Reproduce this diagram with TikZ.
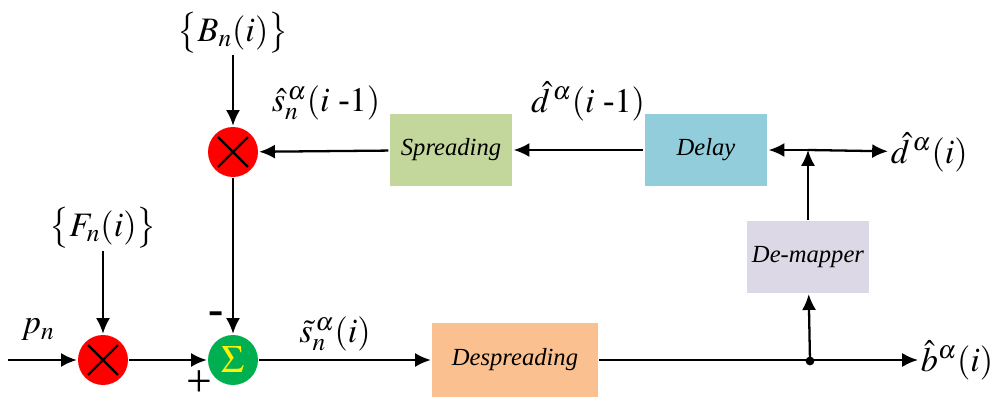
\documentclass[tikz,border=0pt]{standalone}
\usepackage{amsmath}
\usepackage{mathptmx}
\usepackage{fontspec}
\setmainfont{Liberation Serif}
\usepackage{tikz}
\usetikzlibrary{arrows.meta,arrows}
\usetikzlibrary{positioning}
\tikzset{>={Latex[length=9pt,width=8pt]}}
\definecolor{spreadcol}{HTML}{C3D69B}
\definecolor{delaycol}{HTML}{92CDDC}
\definecolor{demapcol}{HTML}{DCD8E6}
\definecolor{despcol}{HTML}{FAC090}
\definecolor{sumcol}{HTML}{00B050}
\newcommand{\biglab}{\fontsize{19.5}{22}\selectfont}

\begin{document}
\begin{tikzpicture}[
    x=0.02cm, y=-0.02cm,
    line width=1.3pt,
    blk/.style={rectangle, minimum width=2.46cm, minimum height=1.44cm,
      inner sep=0pt, font=\fontsize{14}{16}\selectfont\itshape},
    mult/.style={circle, fill=red, minimum size=1cm, inner sep=0pt},
    summ/.style={circle, fill=sumcol, minimum size=1cm, inner sep=0pt,
      text=yellow, font=\fontsize{22}{24}\selectfont},
    lab/.style={font=\biglab, inner sep=1pt}
    ]
\useasboundingbox (0,0) rectangle (1004,405);
%upper loop
\node[lab, inner sep=0pt] (bset) at (233,33) {$\big\{B_n(i)\big\}$};
\node[mult] (multb) at (233,152) {};
\draw (multb.center) ++(-0.3cm,0.3cm) -- ++(0.6cm,-0.6cm)
      (multb.center) ++(-0.3cm,-0.3cm) -- ++(0.6cm,0.6cm);
\node[blk, fill=spreadcol] (spread) at (451,150) {Spreading};
\node[blk, fill=delaycol] (delay) at (706,150) {Delay};
\coordinate (jn) at (808,150);
\node[lab, anchor=west] (dout) at (888,152) {$\hat{d}^{\,\alpha}(i)$};
\node[lab] (slab) at (326,103) {$\hat{s}_n^{\,\alpha}(i\ \text{-}1)$};
\node[lab] (dlab) at (588,101) {$\hat{d}^{\,\alpha}(i\ \text{-}1)$};
\node[blk, fill=demapcol] (demap) at (808,257) {De-mapper};
%lower path
\coordinate (pin) at (8,360);
\node[lab] (pn) at (38,330) {$p_n$};
\node[lab] (fset) at (103,228) {$\big\{F_n(i)\big\}$};
\node[mult] (multf) at (103,360) {};
\draw (multf.center) ++(-0.3cm,0.3cm) -- ++(0.6cm,-0.6cm)
      (multf.center) ++(-0.3cm,-0.3cm) -- ++(0.6cm,0.6cm);
\node[summ] (sum) at (233,360) {$\Sigma$};
\node[font=\fontsize{26}{26}\selectfont\bfseries, inner sep=0pt] (minus) at (216,318) {-};
\node[font=\fontsize{26}{26}\selectfont, inner sep=0pt] (plus) at (199,384) {+};
\node[lab] (stlab) at (335,334) {$\tilde{s}_n^{\,\alpha}(i)$};
\node[blk, fill=despcol, minimum width=3.32cm, minimum height=1.5cm] (desp) at (515,360) {Despreading};
\coordinate (dot) at (810,361);
\node[lab, anchor=west] (bout) at (918,360) {$\hat{b}^{\alpha}(i)$};

\draw[->] (bset) -- (multb);
\draw[->] (spread) -- (multb);
\draw[->] (delay) -- (spread);
\draw[->] (jn) -- (delay);
\draw[->] (jn) -- (dout);
\draw[->] (demap) -- (jn);
\draw[->] (multb) -- (sum);
\draw[->] (pin) -- (multf);
\draw[->] (fset) -- (multf);
\draw[->] (multf) -- (sum);
\draw[->] (sum) -- (desp);
\draw[->] (desp) -- (bout);
\draw[->] (dot) -- (demap);
\fill (dot) circle (2.5pt);
\end{tikzpicture}
\end{document}
